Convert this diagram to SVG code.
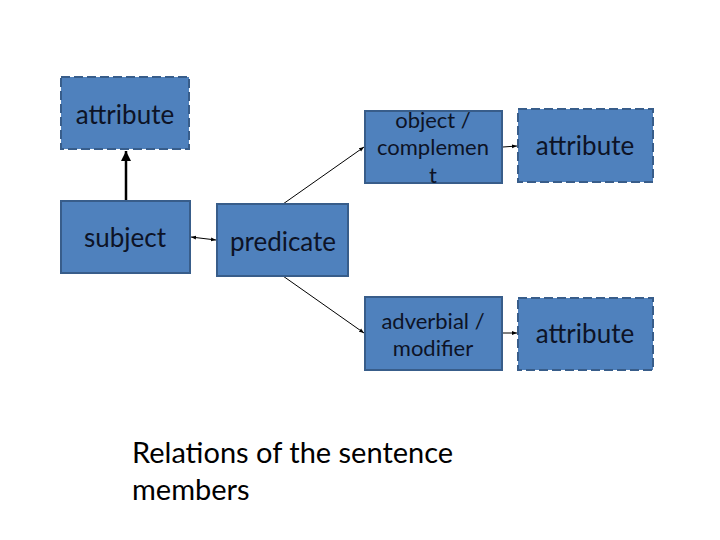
<svg xmlns="http://www.w3.org/2000/svg" width="720" height="540" viewBox="0 0 720 540">
<style>
.box{fill:#4F81BD;stroke:#385D8A;stroke-width:2}
.dash{stroke-dasharray:9 4}
.t{font-family:Lato,"Open Sans","Liberation Sans",sans-serif;fill:#0d1326;text-anchor:middle}
.big{font-size:26px}
.mid{font-size:22px}
.cap{font-family:Lato,"Open Sans","Liberation Sans",sans-serif;fill:#000;font-size:29px}
.ln{stroke:#000;stroke-width:1;fill:none}
</style>
<defs>
<marker id="a" viewBox="0 0 10 10" refX="10" refY="5" markerWidth="5" markerHeight="5" orient="auto-start-reverse"><path d="M0,1 L10,5 L0,9 z" fill="#000"/></marker>
<marker id="b" viewBox="0 0 10 10" refX="10" refY="5" markerWidth="4" markerHeight="4" orient="auto"><path d="M0,0 L10,5 L0,10 z" fill="#000"/></marker>
</defs>
<rect width="720" height="540" fill="#fff"/>
<g id="connectors">
<line x1="126" y1="201" x2="126" y2="151" stroke="#000" stroke-width="2.5" marker-end="url(#b)"/>
<line class="ln" x1="191" y1="237" x2="216" y2="240" marker-start="url(#a)" marker-end="url(#a)"/>
<line class="ln" x1="283" y1="204" x2="364" y2="147" marker-end="url(#a)"/>
<line class="ln" x1="283" y1="276" x2="364" y2="333" marker-end="url(#a)"/>
<line class="ln" x1="503" y1="147" x2="517" y2="146" marker-end="url(#a)"/>
<line class="ln" x1="503" y1="333" x2="517" y2="333" marker-end="url(#a)"/>
</g>
<g id="attr1"><rect class="box dash" x="61" y="77" width="128" height="72"/><text class="t big" x="125" y="124">attribute</text></g>
<g id="subject"><rect class="box" x="61" y="201" width="129" height="72"/><text class="t big" x="125" y="247">subject</text></g>
<g id="predicate"><rect class="box" x="217" y="204" width="131" height="72"/><text class="t big" x="283" y="251">predicate</text></g>
<g id="object"><rect class="box" x="365" y="111" width="137" height="72"/><text class="t mid" x="433" y="128">object /</text><text class="t mid" x="433" y="155">complemen</text><text class="t mid" x="433" y="183">t</text></g>
<g id="attr2"><rect class="box dash" x="518" y="109" width="135" height="73"/><text class="t big" x="585" y="155">attribute</text></g>
<g id="adverbial"><rect class="box" x="365" y="297" width="137" height="73"/><text class="t mid" x="433" y="329">adverbial /</text><text class="t mid" x="433" y="356">modifier</text></g>
<g id="attr3"><rect class="box dash" x="518" y="298" width="135" height="72"/><text class="t big" x="585" y="343">attribute</text></g>
<g id="caption"><text class="cap" x="132" y="463">Relations of the sentence</text><text class="cap" x="132" y="500">members</text></g>
</svg>
